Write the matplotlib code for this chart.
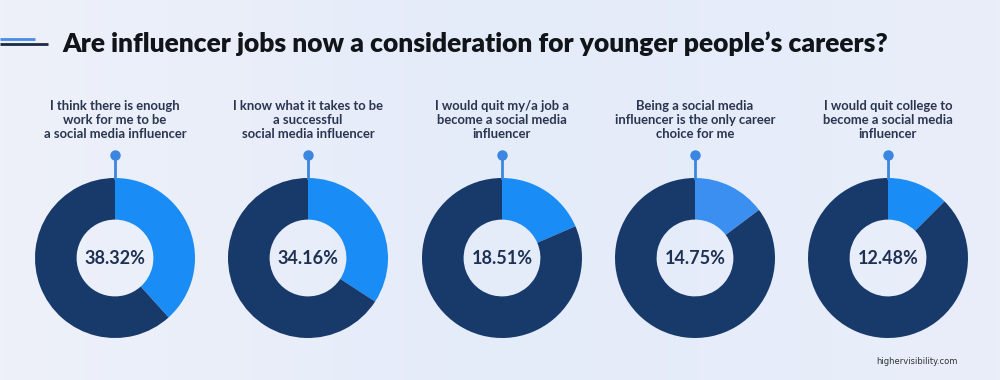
import numpy as np
import matplotlib.pyplot as plt
from matplotlib.colors import LinearSegmentedColormap

# Data
shares = [38.32, 34.16, 18.51, 14.75, 12.48]
statements = [
    "I think there is enough\nwork for me to be\na social media influencer",
    "I know what it takes to be\na successful\nsocial media influencer",
    "I would quit my/a job a\nbecome a social media\ninfluencer",
    "Being a social media\ninfluencer is the only career\nchoice for me",
    "I would quit college to\nbecome a social media\ninfluencer",
]
slice_colors = ["#1a8cf5", "#1a8cf5", "#1a8cf5", "#3a8ff0", "#1a8cf5"]
title = "Are influencer jobs now a consideration for younger people\u2019s careers?"

W, H = 1000, 380
navy = "#173a6b"
text_col = "#2a3550"
pin_col = "#3a86e0"

fig = plt.figure(figsize=(W / 100, H / 100), dpi=100)
ax = fig.add_axes([0, 0, 1, 1])
ax.set_xlim(0, W)
ax.set_ylim(0, H)
ax.set_aspect("equal")
ax.axis("off")

# soft background gradient
bg = LinearSegmentedColormap.from_list("bg", ["#eef1f9", "#e4ebf9", "#e9eef9"])
grad = np.linspace(0, 1, 256).reshape(1, -1)
ax.imshow(grad, cmap=bg, extent=[0, W, 0, H], aspect="auto", zorder=0)

# title bars + title
ax.plot([0, 35], [H - 39, H - 39], color="#4a8ee8", lw=2, solid_capstyle="butt", zorder=2)
ax.plot([0, 48], [H - 44, H - 44], color="#1c2a44", lw=2, solid_capstyle="butt", zorder=2)
ax.text(62, H - 44, title, fontsize=19, fontweight="heavy", family="Lato",
        color="#111418", va="center", ha="left", zorder=3)

centers_x = [115, 308, 502, 695, 888]
cy = H - 258
r_out = 80

for x, pct, lab, col in zip(centers_x, shares, statements, slice_colors):
    ax.pie([pct, 100 - pct], colors=[col, navy], startangle=90, counterclock=False,
           radius=r_out, center=(x, cy), wedgeprops=dict(width=r_out * 0.52, linewidth=0),
           frame=True)
    ax.text(x, cy, f"{pct:.2f}%", fontsize=13, fontweight="bold", family="Lato",
            color="#1f3153", ha="center", va="center", zorder=5)
    ax.text(x, H - 120, lab, fontsize=9.4, fontweight="bold", family="Lato",
            color=text_col, ha="center", va="center", linespacing=1.2, zorder=5)
    ax.plot([x, x], [H - 155, cy + r_out], color=pin_col, lw=2, zorder=4)
    ax.plot(x, H - 155, "o", color=pin_col, ms=6.5, zorder=4)

ax.set_xlim(0, W)
ax.set_ylim(0, H)
ax.axis("off")

ax.text(958, H - 362, "highervisibility.com", fontsize=6, color="#333333",
        ha="right", va="center", zorder=5)

fig.savefig("out.png", dpi=100)
